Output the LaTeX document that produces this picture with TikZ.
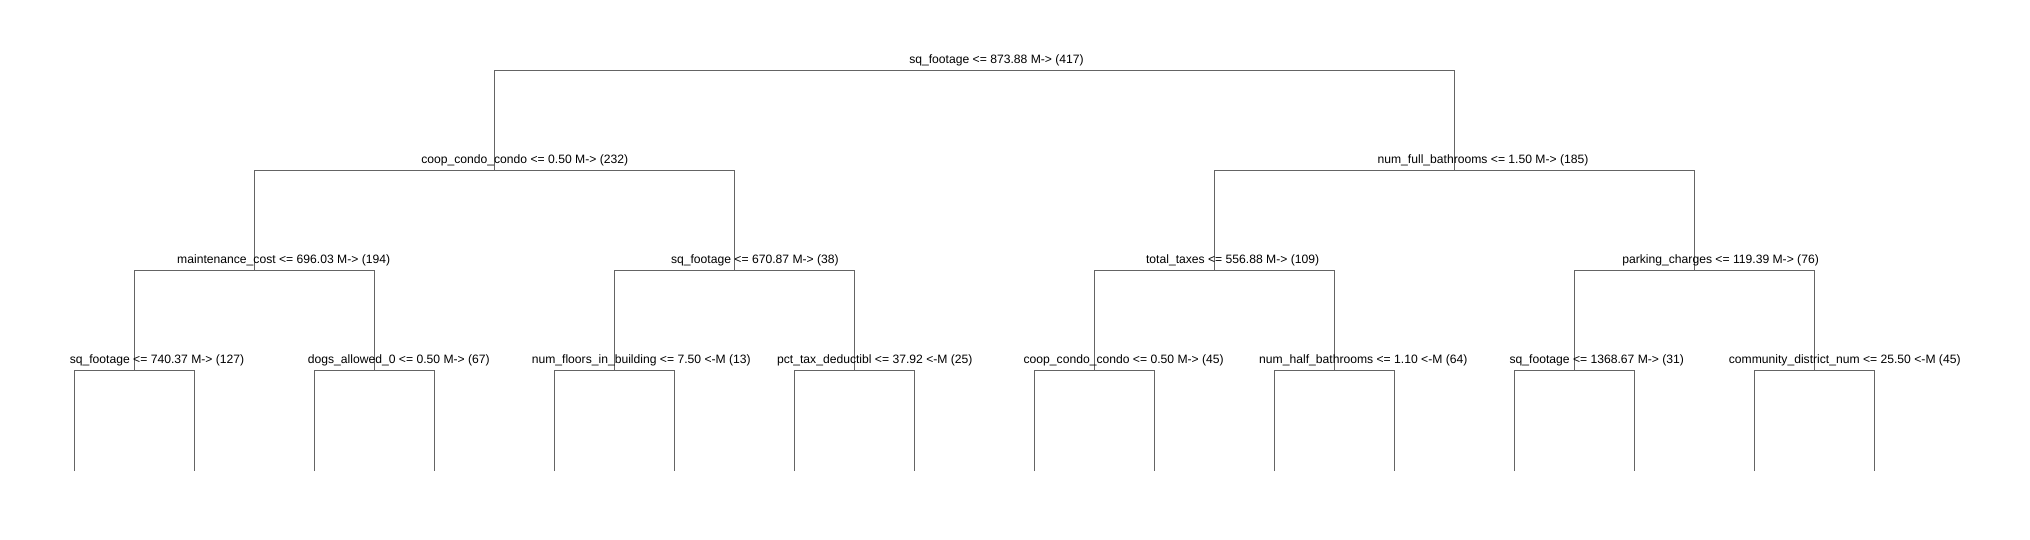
\documentclass[tikz,border=0pt]{standalone}
\usepackage{fontspec}
\setmainfont{Liberation Sans}
\definecolor{linegray}{RGB}{100,100,100}
\begin{document}
\begin{tikzpicture}[x=0.5pt,y=-0.5pt,
  edge/.style={draw=linegray,line width=0.5pt},
  lbl/.style={anchor=base,inner sep=0pt,text=black,font=\fontsize{6.07}{7}\selectfont}]
\useasboundingbox[fill=white] (0,0) rectangle (2030,540);
% split points
\coordinate (R) at (974.5,70.5);
\coordinate (A) at (494.5,170.5);
\coordinate (B) at (1454.5,170.5);
\coordinate (AA) at (254.5,270.5);
\coordinate (AB) at (734.5,270.5);
\coordinate (BA) at (1214.5,270.5);
\coordinate (BB) at (1694.5,270.5);
\coordinate (AAA) at (134.5,370.5);
\coordinate (AAB) at (374.5,370.5);
\coordinate (ABA) at (614.5,370.5);
\coordinate (ABB) at (854.5,370.5);
\coordinate (BAA) at (1094.5,370.5);
\coordinate (BAB) at (1334.5,370.5);
\coordinate (BBA) at (1574.5,370.5);
\coordinate (BBB) at (1814.5,370.5);
% leaf ends
\foreach \n/\x in {AAA/134.5,AAB/374.5,ABA/614.5,ABB/854.5,BAA/1094.5,BAB/1334.5,BBA/1574.5,BBB/1814.5}{
  \coordinate (\n L) at (\x-60,471);
  \coordinate (\n R) at (\x+60,471);
}
% connectors
\draw[edge] (A) |- (R) -| (B);
\draw[edge] (AA) |- (A) -| (AB);
\draw[edge] (BA) |- (B) -| (BB);
\draw[edge] (AAA) |- (AA) -| (AAB);
\draw[edge] (ABA) |- (AB) -| (ABB);
\draw[edge] (BAA) |- (BA) -| (BAB);
\draw[edge] (BBA) |- (BB) -| (BBB);
\foreach \n in {AAA,AAB,ABA,ABB,BAA,BAB,BBA,BBB}{
  \draw[edge] (\n L) |- (\n) -| (\n R);
}
% labels
\node[lbl] (lR) at (996.5,63.5) {sq\_footage <= 873.88 M-> (417)};
\node[lbl] (lA) at (524.7,163.5) {coop\_condo\_condo <= 0.50 M-> (232)};
\node[lbl] (lB) at (1483,163.5) {num\_full\_bathrooms <= 1.50 M-> (185)};
\node[lbl] (lAA) at (283.7,263.5) {maintenance\_cost <= 696.03 M-> (194)};
\node[lbl] (lAB) at (754.9,263.5) {sq\_footage <= 670.87 M-> (38)};
\node[lbl] (lBA) at (1232.6,263.5) {total\_taxes <= 556.88 M-> (109)};
\node[lbl] (lBB) at (1720.6,263.5) {parking\_charges <= 119.39 M-> (76)};
\node[lbl] (lAAA) at (157,363.5) {sq\_footage <= 740.37 M-> (127)};
\node[lbl] (lAAB) at (398.8,363.5) {dogs\_allowed\_0 <= 0.50 M-> (67)};
\node[lbl] (lABA) at (641.3,363.5) {num\_floors\_in\_building <= 7.50 <-M (13)};
\node[lbl] (lABB) at (874.8,363.5) {pct\_tax\_deductibl <= 37.92 <-M (25)};
\node[lbl] (lBAA) at (1123.7,363.5) {coop\_condo\_condo <= 0.50 M-> (45)};
\node[lbl] (lBAB) at (1363.3,363.5) {num\_half\_bathrooms <= 1.10 <-M (64)};
\node[lbl] (lBBA) at (1596.8,363.5) {sq\_footage <= 1368.67 M-> (31)};
\node[lbl] (lBBB) at (1844.7,363.5) {community\_district\_num <= 25.50 <-M (45)};
\end{tikzpicture}
\end{document}
